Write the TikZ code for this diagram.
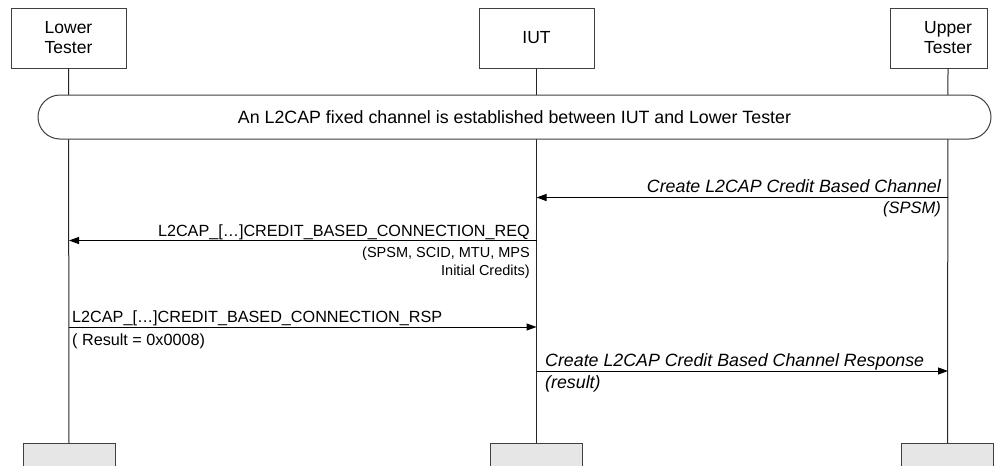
\documentclass[tikz,border=0pt]{standalone}
\usepackage{fontspec}
\setmainfont{Liberation Sans}
\usetikzlibrary{arrows.meta}
\definecolor{boxline}{HTML}{404040}
\definecolor{boxfill}{HTML}{E6E6E6}
\tikzset{
  ent/.style={draw=boxline, line width=1pt, minimum width=115pt, minimum height=60pt, inner sep=0pt, align=center, font=\fontsize{17.5}{20}\selectfont},
  endbox/.style={draw=boxline, fill=boxfill, line width=1pt, minimum width=92pt, minimum height=50pt, inner sep=0pt, anchor=north},
  life/.style={line width=1pt, black!85},
  msg/.style={line width=1pt, black, -{Triangle[length=10pt,width=7pt]}},
  lbl/.style={inner sep=0pt, font=\fontsize{16.2}{19}\selectfont},
  ilbl/.style={inner sep=0pt, font=\fontsize{17.8}{20}\selectfont\itshape},
  pilbl/.style={inner sep=0pt, font=\fontsize{16.5}{19}\selectfont\itshape},
  slbl/.style={inner sep=0pt, font=\fontsize{14.5}{17}\selectfont},
}
\begin{document}
\begin{tikzpicture}[x=1pt,y=-1pt]
\useasboundingbox (0,0) rectangle (994,466);
\clip (0,0) rectangle (994,466);
\fill[white] (0,0) rectangle (994,466);
% top boxes
\node[ent] (lt) at (68.5,38) {Lower\\Tester};
\node[ent] (iut) at (536.5,38) {IUT};
\node[ent, minimum width=97pt] (ut) at (938.5,38) {};
\node[inner sep=0pt, align=center, font=\fontsize{17.5}{20}\selectfont] (utl) at (948,38) {Upper\\Tester};
\coordinate (uttop) at (948,68);
% bottom boxes
\node[endbox] (ltb) at (69,443) {};
\node[endbox] (iutb) at (536.5,443) {};
\node[endbox] (utb) at (947.5,443) {};
% lifelines
\draw[life] (lt.south) -- (ltb.north);
\draw[life] (iut.south) -- (iutb.north);
\draw[life] (uttop) -- (utb.north);
% banner
\node[draw=boxline, fill=white, line width=1pt, rounded corners=22pt, minimum width=953pt, minimum height=44pt, inner sep=0pt, font=\fontsize{17.8}{20}\selectfont] (banner) at (514.5,117) {An L2CAP fixed channel is established between IUT and Lower Tester};
% message anchors
\coordinate (u1) at (948,197.5);
\coordinate (i1) at (536.5,197.5);
\coordinate (i2) at (536.5,240.5);
\coordinate (l2) at (69,240.5);
\coordinate (l3) at (69,327);
\coordinate (i3) at (536.5,327);
\coordinate (i4) at (536.5,371);
\coordinate (u4) at (948,371);
% messages
\draw[msg] (u1) -- (i1);
\draw[msg] (i2) -- (l2);
\draw[msg] (l3) -- (i3);
\draw[msg] (i4) -- (u4);
% labels
\node[ilbl, anchor=base east] (m1a) at (941,192) {Create L2CAP Credit Based Channel};
\node[pilbl, anchor=base east] (m1b) at (941,213) {(SPSM)};
\node[lbl, anchor=base east] (m2a) at (530,236.5) {L2CAP\_[…]CREDIT\_BASED\_CONNECTION\_REQ};
\node[slbl, anchor=base east] (m2b) at (530,257) {(SPSM, SCID, MTU, MPS};
\node[slbl, anchor=base east] (m2c) at (530,275) {Initial Credits)};
\node[lbl, anchor=base west] (m3a) at (72,322.5) {L2CAP\_[…]CREDIT\_BASED\_CONNECTION\_RSP};
\node[lbl, anchor=base west] (m3b) at (72,345) {( Result = 0x0008)};
\node[ilbl, anchor=base west] (m4a) at (545,366.5) {Create L2CAP Credit Based Channel Response};
\node[ilbl, anchor=base west] (m4b) at (545,388) {(result)};
\end{tikzpicture}
\end{document}
